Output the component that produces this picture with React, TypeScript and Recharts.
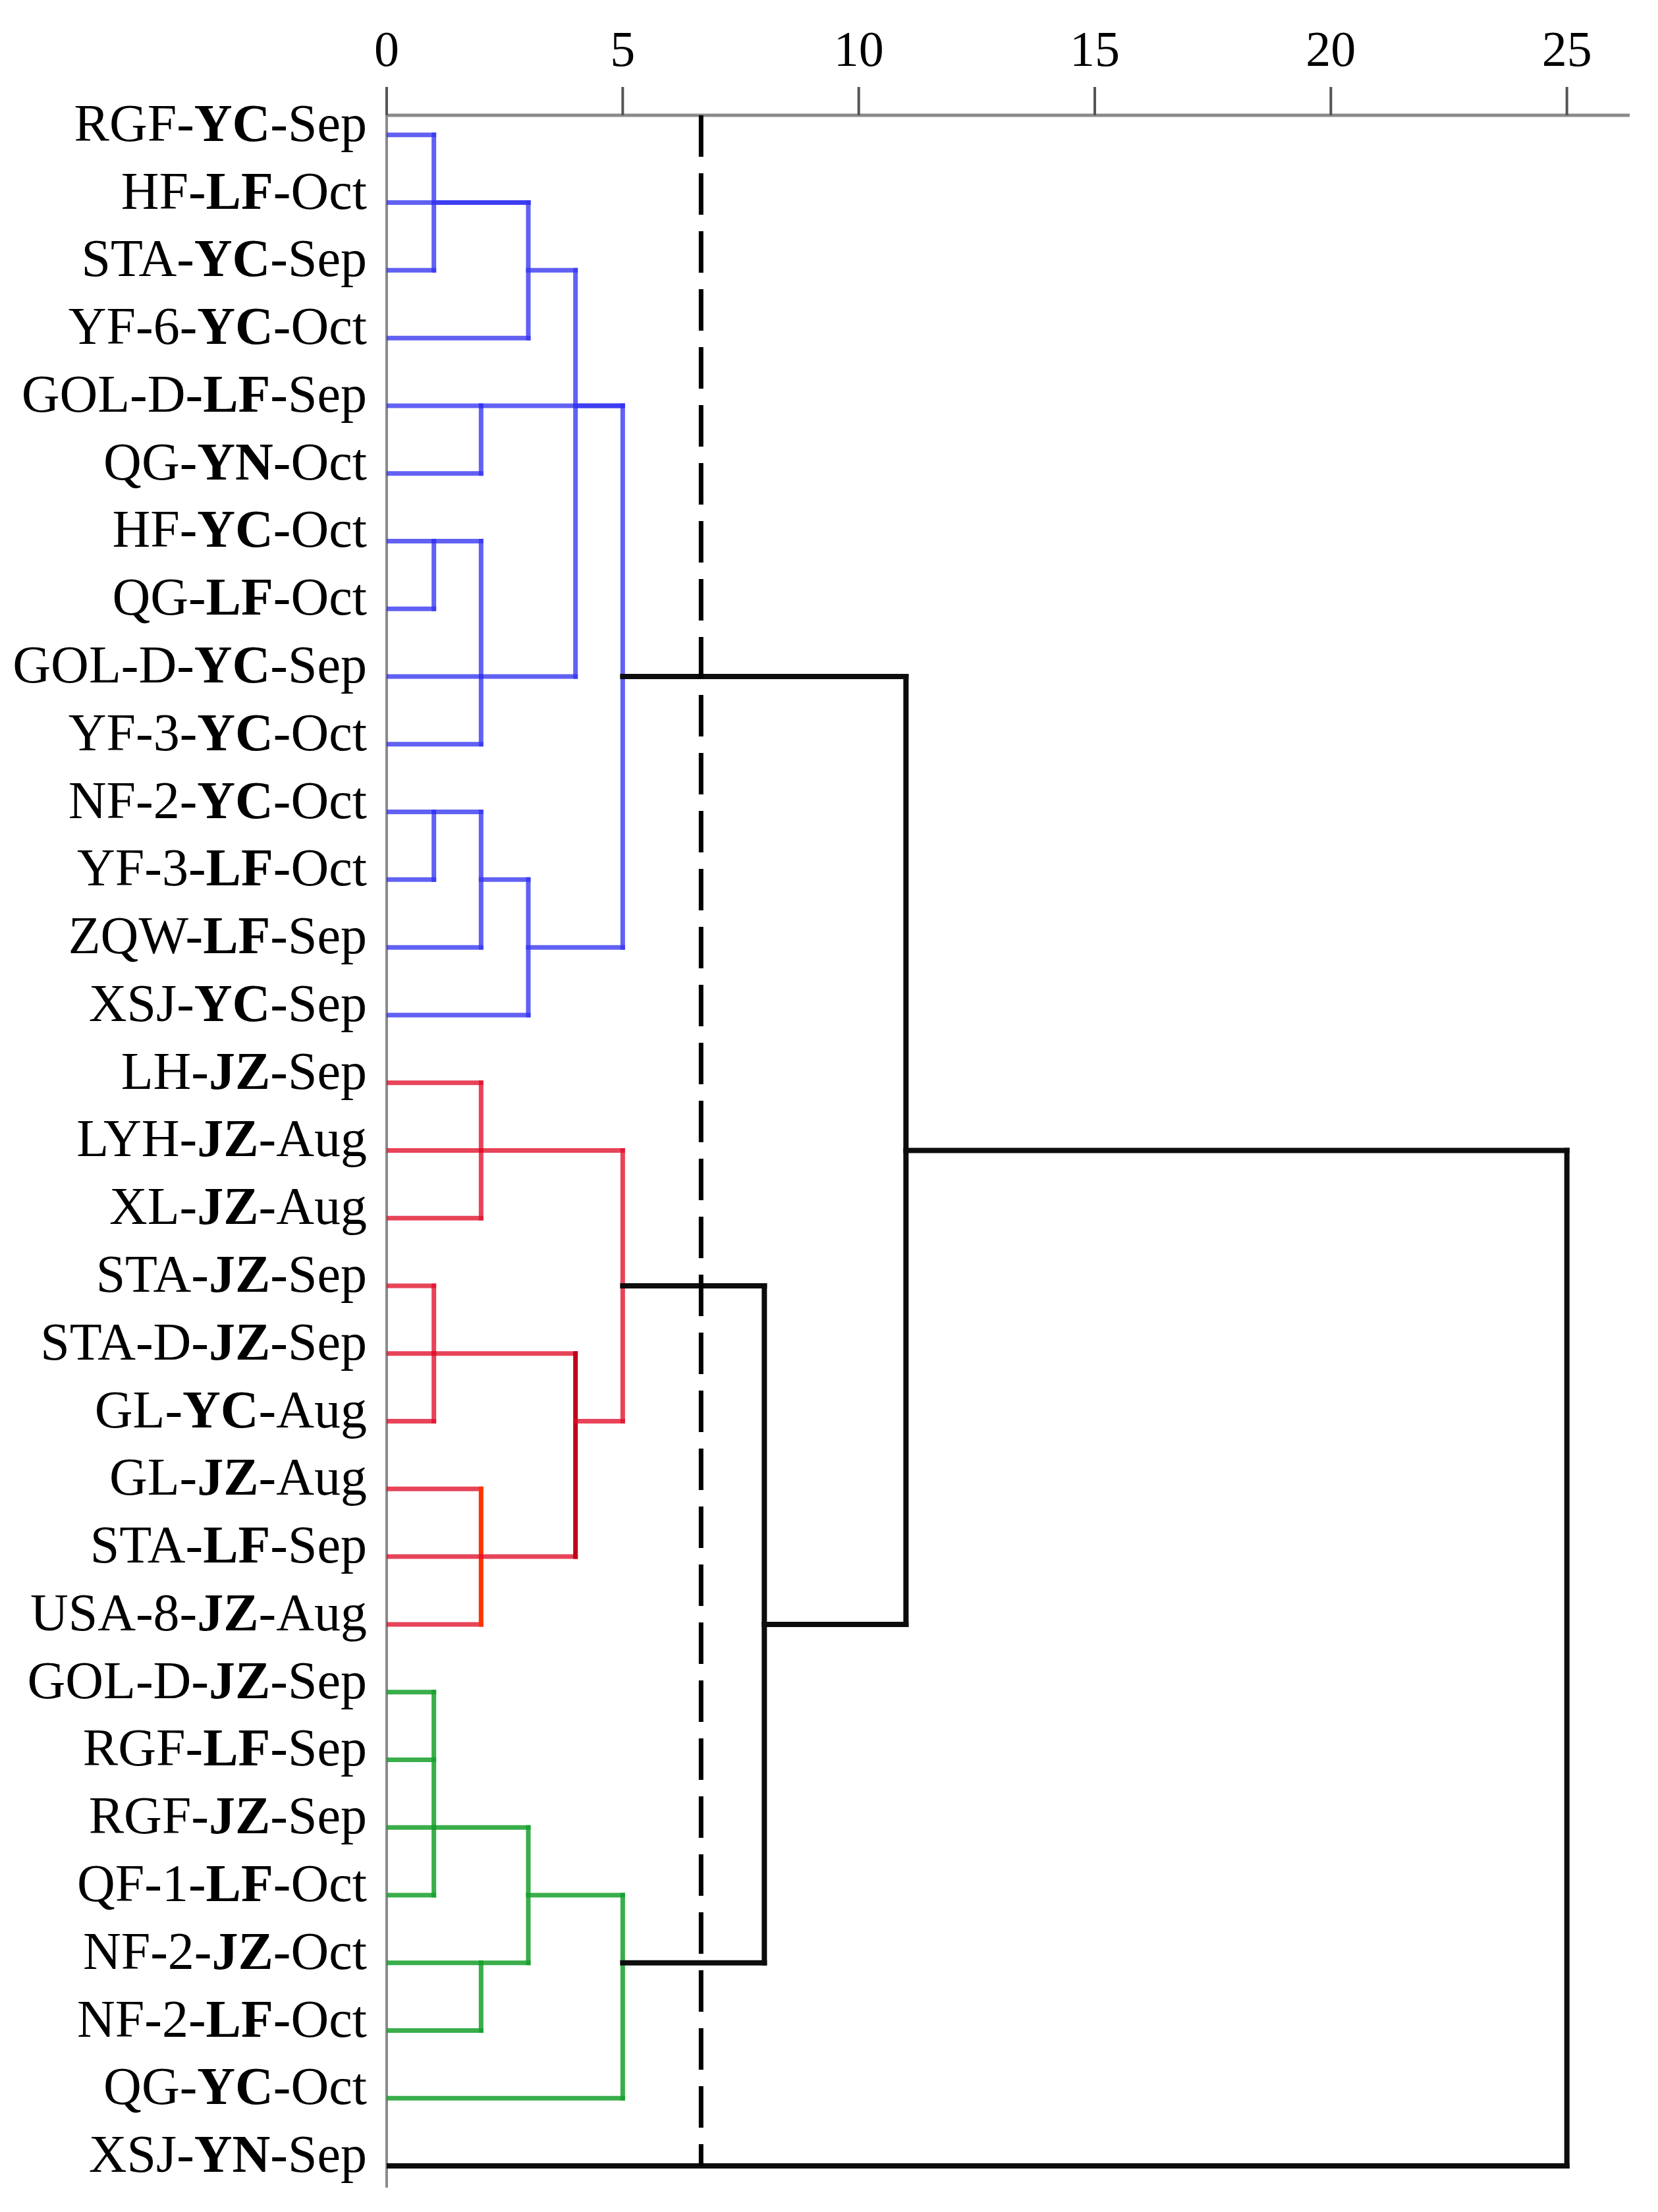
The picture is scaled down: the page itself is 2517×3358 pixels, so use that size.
import React from "react";
import { ScatterChart, Scatter, XAxis, YAxis } from "recharts";

// leaf labels, top to bottom: site - TISSUE (bold) - month
const sites = [
  "RGF", "HF", "STA", "YF-6", "GOL-D", "QG", "HF", "QG", "GOL-D", "YF-3",
  "NF-2", "YF-3", "ZQW", "XSJ", "LH", "LYH", "XL", "STA", "STA-D", "GL",
  "GL", "STA", "USA-8", "GOL-D", "RGF", "RGF", "QF-1", "NF-2", "NF-2", "QG",
  "XSJ",
];
const tissues = [
  "YC", "LF", "YC", "YC", "LF", "YN", "YC", "LF", "YC", "YC",
  "YC", "LF", "LF", "YC", "JZ", "JZ", "JZ", "JZ", "JZ", "YC",
  "JZ", "LF", "JZ", "JZ", "LF", "JZ", "LF", "JZ", "LF", "YC",
  "YN",
];
const months = [
  "Sep", "Oct", "Sep", "Oct", "Sep", "Oct", "Oct", "Oct", "Sep", "Oct",
  "Oct", "Oct", "Sep", "Sep", "Sep", "Aug", "Aug", "Sep", "Sep", "Aug",
  "Aug", "Sep", "Aug", "Sep", "Sep", "Sep", "Oct", "Oct", "Oct", "Oct",
  "Sep",
];

const distanceTicks = [0, 5, 10, 15, 20, 25];
const cutDistance = 6.66;

// merges (rescaled distance), children listed before parents.
// kids: leaf index or id of an earlier merge; row = leaf row where the merged branch continues
type Merge = {
  id: string;
  group: "blue" | "red" | "green" | "black";
  height: number;
  row: number;
  kids: (number | string)[];
};

const merges: Merge[] = [
  { id: "b1", group: "blue", height: 1, row: 1, kids: [0, 2] },
  { id: "b2", group: "blue", height: 3, row: 2, kids: ["b1", 1, 3] },
  { id: "b3", group: "blue", height: 2, row: 4, kids: [4, 5] },
  { id: "b4", group: "blue", height: 1, row: 6, kids: [6, 7] },
  { id: "b5", group: "blue", height: 2, row: 8, kids: ["b4", 8, 9] },
  { id: "b6", group: "blue", height: 4, row: 4, kids: ["b2", "b5"] },
  { id: "b7", group: "blue", height: 1, row: 10, kids: [10, 11] },
  { id: "b8", group: "blue", height: 2, row: 11, kids: ["b7", 12] },
  { id: "b9", group: "blue", height: 3, row: 12, kids: ["b8", 13] },
  { id: "b10", group: "blue", height: 5, row: 8, kids: ["b3", "b6", "b9"] },
  { id: "r1", group: "red", height: 2, row: 15, kids: [14, 15, 16] },
  { id: "r2", group: "red", height: 1, row: 18, kids: [17, 18, 19] },
  { id: "r3", group: "red", height: 2, row: 21, kids: [20, 21, 22] },
  { id: "r4", group: "red", height: 4, row: 19, kids: ["r2", "r3"] },
  { id: "r5", group: "red", height: 5, row: 17, kids: ["r1", "r4"] },
  { id: "g1", group: "green", height: 1, row: 25, kids: [23, 24, 25, 26] },
  { id: "g2", group: "green", height: 2, row: 27, kids: [27, 28] },
  { id: "g3", group: "green", height: 3, row: 26, kids: ["g1", "g2"] },
  { id: "g4", group: "green", height: 5, row: 27, kids: ["g3", 29] },
  { id: "k1", group: "black", height: 8, row: 22, kids: ["r5", "g4"] },
  { id: "k2", group: "black", height: 11, row: 15, kids: ["b10", "k1"] },
  { id: "k3", group: "black", height: 25, row: 22, kids: ["k2", 30] },
];

const GROUP_STYLE: Record<string, { stroke: string; opacity: number; width: number }> = {
  blue: { stroke: "#3434f0", opacity: 0.78, width: 7 },
  red: { stroke: "#e0102a", opacity: 0.78, width: 7 },
  green: { stroke: "#16a02c", opacity: 0.85, width: 7 },
  black: { stroke: "#0d0d0d", opacity: 1, width: 8 },
};
// a couple of verticals are drawn in a different shade in the original
const VERTICAL_STROKE: Record<string, string> = {
  r3: "#ff3300",
  r4: "#c0001a",
};

const FONT = "'Liberation Serif', 'Times New Roman', serif";
const ROW_MIN = -0.29;
const ROW_MAX = 30.32;

type Seg = { key: string; group: string; stroke?: string; points: { x: number; y: number }[] };

function buildSegments() {
  const pos: Record<string, { h: number; row: number }> = {};
  const segs: Seg[] = [];
  merges.forEach((m) => {
    const kp = m.kids.map((k) => (typeof k === "number" ? { h: 0, row: k } : pos[k]));
    const rows = kp.map((p) => p.row);
    const top = Math.min(...rows);
    const bottom = Math.max(...rows);
    kp.forEach((p, j) => {
      segs.push({
        key: `${m.id}-a${j}`,
        group: m.group,
        points: [
          { x: p.h, y: p.row },
          { x: m.height, y: p.row },
        ],
      });
    });
    segs.push({
      key: `${m.id}-v`,
      group: m.group,
      stroke: VERTICAL_STROKE[m.id],
      points: [
        { x: m.height, y: top },
        { x: m.height, y: bottom },
      ],
    });
    pos[m.id] = { h: m.height, row: m.row };
  });
  // colored first, black on top
  return [
    ...segs.filter((s) => s.group !== "black"),
    ...segs.filter((s) => s.group === "black"),
  ];
}

function LeafTick(props: any) {
  const { x, y, payload } = props;
  const i = Number(payload?.value);
  if (!(i >= 0 && i < sites.length)) return null;
  return (
    <text x={x} y={y} dy={9} textAnchor="end" fontFamily={FONT} fontSize={80} fill="#000">
      <tspan>{sites[i]}-</tspan>
      <tspan fontWeight={700}>{tissues[i]}</tspan>
      <tspan>-{months[i]}</tspan>
    </text>
  );
}

const noDot = () => <g />;

export default function App() {
  const segs = buildSegments();
  const rowTicks = sites.map((_, i) => i);

  return (
    <div style={{ position: "absolute", left: 0, top: 0, background: "#fff" }}>
      <ScatterChart
        width={2517}
        height={3358}
        margin={{ top: 25, right: 43, bottom: 37, left: 20 }}
      >
        <XAxis
          type="number"
          dataKey="x"
          orientation="top"
          domain={[0, 26.33]}
          allowDataOverflow
          ticks={distanceTicks}
          interval={0}
          height={150}
          tickSize={43}
          tickMargin={32}
          axisLine={{ stroke: "#8a8a8a", strokeWidth: 5 }}
          tickLine={{ stroke: "#555", strokeWidth: 4 }}
          tick={{ fontFamily: FONT, fontSize: 76, fill: "#000" }}
        />
        <YAxis
          type="number"
          dataKey="y"
          domain={[ROW_MIN, ROW_MAX]}
          allowDataOverflow
          reversed
          ticks={rowTicks}
          interval={0}
          width={567}
          tickSize={0}
          tickMargin={30}
          tickLine={false}
          axisLine={{ stroke: "#8a8a8a", strokeWidth: 4 }}
          tick={<LeafTick />}
        />
        {segs.map((s) => {
          const st = GROUP_STYLE[s.group];
          return (
            <Scatter
              key={s.key}
              data={s.points}
              shape={noDot}
              legendType="none"
              isAnimationActive={false}
              line={{
                stroke: s.stroke || st.stroke,
                strokeWidth: st.width,
                strokeOpacity: s.stroke ? 1 : st.opacity,
                strokeLinecap: "square",
              }}
            />
          );
        })}
        <Scatter
          data={[
            { x: cutDistance, y: ROW_MIN },
            { x: cutDistance, y: 30 },
          ]}
          shape={noDot}
          legendType="none"
          isAnimationActive={false}
          line={{ stroke: "#000", strokeWidth: 7, strokeDasharray: "63 25" }}
        />
      </ScatterChart>
    </div>
  );
}
